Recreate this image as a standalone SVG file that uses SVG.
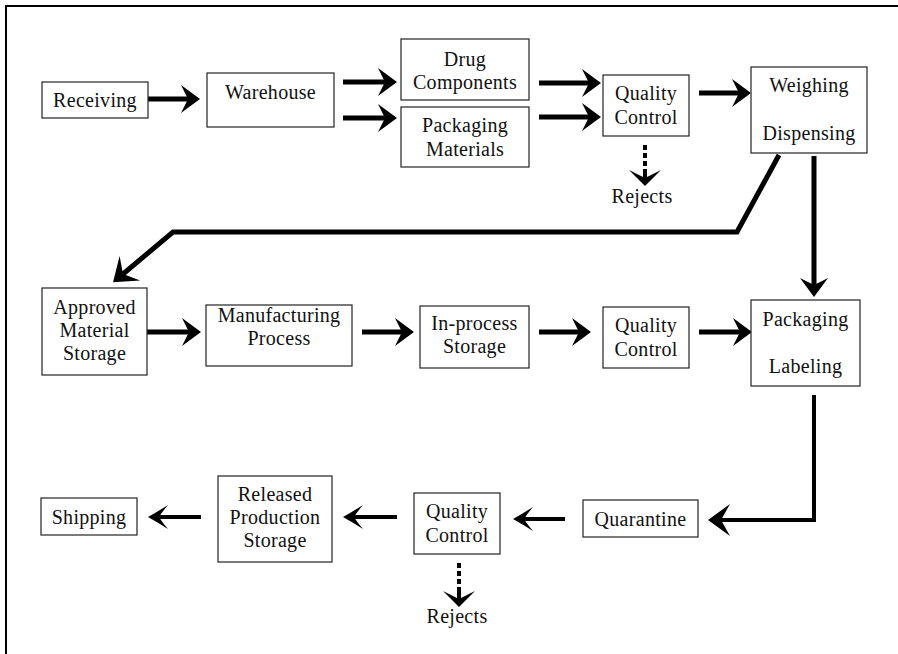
<svg xmlns="http://www.w3.org/2000/svg" width="898" height="654" viewBox="0 0 898 654">
  <style>
    .box { fill: #ffffff; stroke: #222222; stroke-width: 1.2; }
    .lbl { font-family: "Liberation Serif", "Times New Roman", serif; font-size: 20px; fill: #111111; text-anchor: middle; letter-spacing: 0.3px; }
    .flow { fill: none; stroke: #000000; stroke-width: 5; stroke-linejoin: miter; }
    .flow-thin { fill: none; stroke: #000000; stroke-width: 4; stroke-linejoin: miter; }
    .dots { fill: none; stroke: #000000; stroke-width: 4; stroke-dasharray: 5 3; }
    .frame { fill: none; stroke: #000000; stroke-width: 2; }
  </style>
  <defs>
    <!-- solid arrowhead: tip at 0,0, line ends at the notch -->
    <marker id="head" markerUnits="userSpaceOnUse" viewBox="-22 -17 24 34" markerWidth="24" markerHeight="34" refX="-12" refY="0" orient="auto" overflow="visible">
      <path d="M0,0 L-19,-14 L-12,0 L-19,14 Z" fill="#000000"/>
    </marker>
    <marker id="headL" markerUnits="userSpaceOnUse" viewBox="-25 -18 27 36" markerWidth="27" markerHeight="36" refX="-13" refY="0" orient="auto" overflow="visible">
      <path d="M0,0 L-22,-16 L-13,0 L-22,16 Z" fill="#000000"/>
    </marker>
    <marker id="headS" markerUnits="userSpaceOnUse" viewBox="-22 -14 24 28" markerWidth="24" markerHeight="28" refX="-11" refY="0" orient="auto" overflow="visible">
      <path d="M0,0 Q-9,-5 -20,-12 Q-14,-5 -11,0 Q-14,5 -20,12 Q-9,5 0,0 Z" fill="#000000"/>
    </marker>
    <marker id="headD" markerUnits="userSpaceOnUse" viewBox="-18 -17 20 34" markerWidth="20" markerHeight="34" refX="-8" refY="0" orient="auto" overflow="visible">
      <path d="M0,0 L-16,-16 L-8,0 L-16,16 Z" fill="#000000"/>
    </marker>
  </defs>

  <rect width="898" height="654" fill="#ffffff"/>
  <!-- page frame -->
  <path class="frame" d="M6,654 V6 H898"/>

  <g id="connectors">
    <path class="flow" d="M148,99 H188" marker-end="url(#head)"/>
    <path class="flow" d="M343,82 H385" marker-end="url(#head)"/>
    <path class="flow" d="M343,118 H385" marker-end="url(#head)"/>
    <path class="flow" d="M539,83 H589" marker-end="url(#head)"/>
    <path class="flow" d="M539,117 H589" marker-end="url(#head)"/>
    <path class="flow" d="M699,93 H739" marker-end="url(#head)"/>
    <path class="flow" d="M814,156 V285" marker-end="url(#head)"/>
    <path class="flow" d="M779,155 L737,232 L173,232 L123,274" marker-end="url(#headL)"/>
    <path class="flow" d="M147,332 H189" marker-end="url(#head)"/>
    <path class="flow" d="M362,332 H402" marker-end="url(#head)"/>
    <path class="flow" d="M539,332 H579" marker-end="url(#head)"/>
    <path class="flow" d="M699,332 H740" marker-end="url(#head)"/>
    <path class="flow-thin" d="M814,395 V520 H721" marker-end="url(#headL)"/>
    <path class="flow-thin" d="M565,519 H524" marker-end="url(#headS)"/>
    <path class="flow-thin" d="M397,517 H354" marker-end="url(#headS)"/>
    <path class="flow-thin" d="M201,517 H159" marker-end="url(#headS)"/>
    <path class="dots" d="M645,145 V170"/>
    <path class="flow-thin" d="M645,170 V178" marker-end="url(#headD)"/>
    <path class="dots" d="M459,563 V588"/>
    <path class="flow-thin" d="M459,588 V599" marker-end="url(#headD)"/>
  </g>

  <g id="receiving">
    <rect class="box" x="42" y="82" width="106" height="36"/>
    <text class="lbl" x="95" y="107">Receiving</text>
  </g>
  <g id="warehouse">
    <rect class="box" x="207" y="73" width="127" height="54"/>
    <text class="lbl" x="270.5" y="99">Warehouse</text>
  </g>
  <g id="drug-components">
    <rect class="box" x="401" y="39" width="128" height="61"/>
    <text class="lbl" x="465" y="66">Drug</text>
    <text class="lbl" x="465" y="89">Components</text>
  </g>
  <g id="packaging-materials">
    <rect class="box" x="401" y="107" width="128" height="60"/>
    <text class="lbl" x="465" y="132">Packaging</text>
    <text class="lbl" x="465" y="156">Materials</text>
  </g>
  <g id="quality-control-1">
    <rect class="box" x="603" y="75" width="86" height="61"/>
    <text class="lbl" x="646" y="100">Quality</text>
    <text class="lbl" x="646" y="124">Control</text>
  </g>
  <g id="rejects-1">
    <text class="lbl" x="642" y="203">Rejects</text>
  </g>
  <g id="weighing-dispensing">
    <rect class="box" x="751" y="67" width="116" height="86"/>
    <text class="lbl" x="809" y="92">Weighing</text>
    <text class="lbl" x="809" y="140">Dispensing</text>
  </g>
  <g id="approved-material-storage">
    <rect class="box" x="42" y="288" width="105" height="87"/>
    <text class="lbl" x="94.5" y="314">Approved</text>
    <text class="lbl" x="94.5" y="337">Material</text>
    <text class="lbl" x="94.5" y="360">Storage</text>
  </g>
  <g id="manufacturing-process">
    <rect class="box" x="206" y="305" width="146" height="61"/>
    <text class="lbl" x="279" y="322">Manufacturing</text>
    <text class="lbl" x="279" y="345">Process</text>
  </g>
  <g id="in-process-storage">
    <rect class="box" x="420" y="306" width="109" height="62"/>
    <text class="lbl" x="474.5" y="330">In-process</text>
    <text class="lbl" x="474.5" y="353">Storage</text>
  </g>
  <g id="quality-control-2">
    <rect class="box" x="603" y="307" width="86" height="61"/>
    <text class="lbl" x="646" y="332">Quality</text>
    <text class="lbl" x="646" y="356">Control</text>
  </g>
  <g id="packaging-labeling">
    <rect class="box" x="751" y="300" width="109" height="86"/>
    <text class="lbl" x="805.5" y="326">Packaging</text>
    <text class="lbl" x="805.5" y="373">Labeling</text>
  </g>
  <g id="quarantine">
    <rect class="box" x="583" y="500" width="115" height="37"/>
    <text class="lbl" x="640.5" y="526">Quarantine</text>
  </g>
  <g id="quality-control-3">
    <rect class="box" x="414" y="493" width="86" height="61"/>
    <text class="lbl" x="457" y="518">Quality</text>
    <text class="lbl" x="457" y="542">Control</text>
  </g>
  <g id="rejects-2">
    <text class="lbl" x="457" y="623">Rejects</text>
  </g>
  <g id="released-production-storage">
    <rect class="box" x="218" y="476" width="114" height="86"/>
    <text class="lbl" x="275" y="501">Released</text>
    <text class="lbl" x="275" y="524">Production</text>
    <text class="lbl" x="275" y="547">Storage</text>
  </g>
  <g id="shipping">
    <rect class="box" x="41" y="498" width="96" height="37"/>
    <text class="lbl" x="89" y="524">Shipping</text>
  </g>
</svg>
